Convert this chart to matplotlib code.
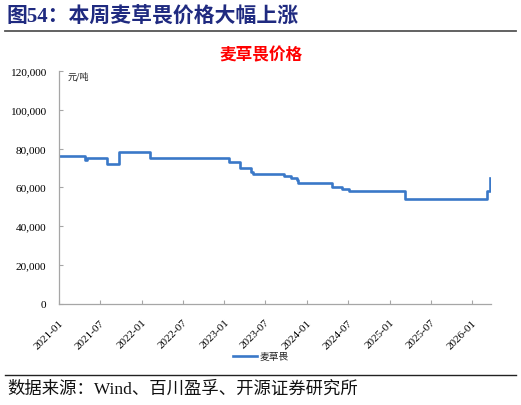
import matplotlib
matplotlib.use("Agg")
import matplotlib.pyplot as plt
import pandas as pd

# ---- data ----
dates = ["2021-01-01", "2021-04-24", "2021-05-03", "2021-08-01", "2021-09-23",
         "2022-02-08", "2023-01-22", "2023-03-10", "2023-04-29", "2023-05-10",
         "2023-09-21", "2023-10-25", "2023-11-18", "2023-11-24", "2024-04-22",
         "2024-06-04", "2024-07-05", "2025-03-10", "2026-03-08", "2026-03-21"]
prices = [76000, 74000, 75000, 72000, 78000,
          75000, 73000, 70000, 68000, 67000,
          66000, 65000, 63500, 62000, 60000,
          59000, 58000, 54000, 58000, 65000]
series_name = "麦草畏"
x_ticks = ["2021-01", "2021-07", "2022-01", "2022-07", "2023-01", "2023-07",
           "2024-01", "2024-07", "2025-01", "2025-07", "2026-01"]
y_ticks = [0, 20000, 40000, 60000, 80000, 100000, 120000]

fig_title = "图54：本周麦草畏价格大幅上涨"
chart_title = "麦草畏价格"
unit = "元/吨"
source = "数据来源：Wind、百川盈孚、开源证券研究所"

W, H = 521, 406
fig = plt.figure(figsize=(W / 100, H / 100), dpi=100)
fam = ["Liberation Serif", "Noto Sans CJK SC"]
cjk = ["Noto Sans CJK SC", "Liberation Serif"]

def fx(px):
    return px / W

def fy(py):
    return 1 - py / H

# header
fig.text(fx(7), fy(18), fig_title, fontsize=15, fontweight="bold", color="#1F2A80",
         family=fam, ha="left", va="center")
fig.add_artist(plt.Line2D([fx(5), fx(516)], [fy(32), fy(32)], color="#555555", lw=1.3))
fig.add_artist(plt.Line2D([fx(5), fx(516)], [fy(376), fy(376)], color="#222222", lw=1.0))
fig.text(fx(7), fy(390), source, fontsize=12.5, color="#111111", family=fam,
         ha="left", va="center")

# axes
ax = fig.add_axes([fx(59), fy(304.5), fx(491) - fx(59), (304.5 - 72) / H])
d = pd.to_datetime(dates)
ax.plot(d, prices, drawstyle="steps-post", color="#3A78C8", lw=1.9)
ax.set_ylim(0, 120000)
ax.set_xlim(pd.Timestamp("2021-01-01"), pd.Timestamp("2026-03-25"))
ax.set_yticks(y_ticks)
ax.set_yticklabels([f"{v:,}" for v in y_ticks], family="Liberation Serif", fontsize=8.2)
ax.set_xticks(pd.to_datetime([t + "-01" for t in x_ticks]))
ax.set_xticklabels(x_ticks, family="Liberation Serif", fontsize=8, rotation=45,
                   ha="right", va="top", rotation_mode="anchor")
for s in ["top", "right"]:
    ax.spines[s].set_visible(False)
for s in ["left", "bottom"]:
    ax.spines[s].set_color("#A6A6A6")
    ax.spines[s].set_linewidth(0.9)
ax.tick_params(axis="y", direction="in", length=3, color="#A6A6A6", pad=9)
ax.tick_params(axis="x", direction="in", length=3, color="#A6A6A6", pad=10)

ax.text(0.02, 0.98, unit, transform=ax.transAxes, fontsize=6.5, family=cjk,
        ha="left", va="center", color="#222222")
fig.text(0.5, fy(55), chart_title, fontsize=12, fontweight="bold", color="#FF0000",
         family=cjk, ha="center", va="center")

# legend
fig.add_artist(plt.Line2D([fx(233), fx(257)], [fy(357), fy(357)], color="#3A78C8", lw=1.9))
fig.text(fx(259), fy(357), series_name, fontsize=7, family=cjk, ha="left", va="center",
         color="#222222")

fig.savefig("out.png", dpi=100)
